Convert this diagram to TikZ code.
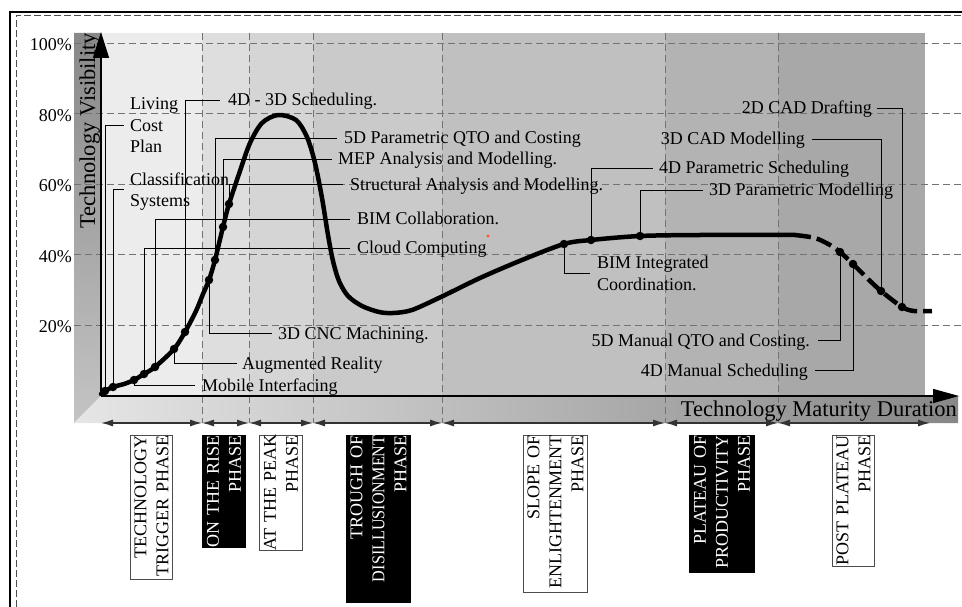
\documentclass[tikz,border=0pt]{standalone}
\usepackage{fontspec}
\setmainfont{Liberation Serif}
\usepackage{graphicx}
\usetikzlibrary{arrows.meta}

\definecolor{bandA}{HTML}{ECECEC}
\definecolor{bandB}{HTML}{DEDEDE}
\definecolor{bandC}{HTML}{D5D5D5}
\definecolor{bandD}{HTML}{CACACA}
\definecolor{bandE}{HTML}{C0C0C0}
\definecolor{bandF}{HTML}{B3B3B3}
\definecolor{bandG}{HTML}{A8A8A8}
\definecolor{wallTop}{HTML}{888888}
\definecolor{wallBot}{HTML}{C4C4C4}
\definecolor{floorL}{HTML}{E6E6E6}
\definecolor{floorR}{HTML}{878787}
\definecolor{speck}{HTML}{FF5A1A}

\begin{document}
\begin{tikzpicture}[x=1pt,y=1pt,
  lbl/.style={font=\fontsize{18}{21.5}\selectfont, inner sep=0pt, text height=12pt, text depth=0pt},
  mlbl/.style={font=\fontsize{18}{21.5}\selectfont, inner sep=0pt, align=left},
  lead/.style={line width=0.9pt, draw=black},
  gridline/.style={draw=black!55, line width=0.8pt, dash pattern=on 7pt off 4pt},
  hype/.style={line width=4.5pt, line join=round, line cap=round},
  hdot/.style={circle, fill=black, inner sep=0pt, minimum size=8.5pt},
  axisline/.style={line width=1.4pt, draw=black},
  phasearrow/.style={line width=1.3pt, draw=black!80,
    arrows={Latex[length=12pt,width=7pt]-Latex[length=12pt,width=7pt]}},
  phasebox/.style={rotate=90, anchor=north east, align=right, inner xsep=0pt,
    inner ysep=0pt, line width=0.8pt, font=\fontsize{18}{22}\selectfont},
  lightphase/.style={phasebox, draw=black!70, fill=white, text=black},
  darkphase/.style={phasebox, draw=black, fill=black, text=white},
]
\useasboundingbox (0,-607) rectangle (962,0);

% page frame
\draw[line width=2pt] (10,-607) -- (10,-12) -- (962,-12);
\draw[black!70, line width=0.8pt, dash pattern=on 7pt off 3pt] (16,-607) -- (16,-15) -- (962,-15);

% left wall and floor
\shade[top color=wallTop, bottom color=wallBot] (74,-33) -- (101,-33) -- (101,-396) -- (74,-423) -- cycle;
\shade[left color=floorL, right color=floorR] (74,-423) -- (101,-396) -- (958,-396) -- (958,-423) -- cycle;

% back wall, one band per phase
\fill[bandA] (101,-33) rectangle (202,-396);
\fill[bandB] (202,-33) rectangle (249,-396);
\fill[bandC] (249,-33) rectangle (313,-396);
\fill[bandD] (313,-33) rectangle (442,-396);
\fill[bandE] (442,-33) rectangle (665,-396);
\fill[bandF] (665,-33) rectangle (778,-396);
\fill[bandG] (778,-33) rectangle (925,-396);

% grid
\foreach \y in {43,113.6,184.2,254.8,325.4}
  \draw[gridline] (74,-\y) -- (962,-\y);
\foreach \x in {202,249,313,442,665,778}
  \draw[gridline] (\x,-33) -- (\x,-423);

% tick labels
\node[lbl, anchor=east] (t100) at (72,-44.5) {100\%};
\node[lbl, anchor=east] (t80) at (72,-115.1) {80\%};
\node[lbl, anchor=east] (t60) at (72,-185.7) {60\%};
\node[lbl, anchor=east] (t40) at (72,-256.3) {40\%};
\node[lbl, anchor=east] (t20) at (72,-326.9) {20\%};

% axis titles
\node[font=\fontsize{22.5}{24}\selectfont, rotate=90, anchor=base east, inner sep=0pt] (ytitle) at (95,-33) {Technology Visibility};
\node[font=\fontsize{22.5}{24}\selectfont, anchor=base east, inner sep=0pt] (xtitle) at (957,-416) {Technology Maturity Duration};

% axes
\coordinate (O) at (101,-396);
\coordinate (ytip) at (101,-32);
\coordinate (xtip) at (959,-396);
\draw[axisline, -{Triangle[length=26pt,width=16pt]}] (O) -- (ytip);
\draw[axisline, -{Triangle[length=26pt,width=14pt]}] (O) -- (xtip);

% phase extents
\foreach \n/\x in {0/101,1/202,2/249,3/313,4/442,5/665,6/778,7/930}
  \coordinate (v\n) at (\x,-423);
\foreach \a/\b in {v0/v1,v1/v2,v2/v3,v3/v4,v4/v5,v5/v6,v6/v7}
  \draw[phasearrow] (\a) -- (\b);

% hype curve
\draw[hype] plot[smooth, tension=0.5] coordinates {
  (101,-394) (105,-391) (113,-387) (124,-384) (134,-380) (144,-374) (155,-367)
  (174,-349) (185,-332) (196,-311) (203,-294) (209,-280) (215,-260) (223,-227)
  (229,-204) (240,-171) (250,-143) (262,-123) (278,-115) (296,-120) (307,-137)
  (315,-163) (322,-198) (328,-235) (333,-261) (339,-281) (348,-296) (362,-306)
  (379,-312) (393,-313) (412,-310) (443,-296) (480,-278) (522,-260) (564,-244)
  (591,-240) (640,-236) (700,-235) (795,-235)};
\draw[hype, line cap=butt, dash pattern=on 16pt off 6pt] plot[smooth, tension=0.5] coordinates {
  (795,-235) (815,-238) (830,-245) (840,-252) (853,-264) (867,-278) (881,-291)
  (902,-307) (914,-311) (932,-311)};

% technology markers
\foreach \n/\x/\y in {1/105/391, 2/113/387, 3/134/380, 4/144/374, 5/155/367,
    6/174/349, 7/185/332, 8/209/280, 9/215/260, 10/223/227, 11/229/204,
    12/564/244, 13/591/240, 14/640/236, 15/840/252, 16/853/264, 17/881/291, 18/902/307}
  \node[hdot] (d\n) at (\x,-\y) {};

\fill[speck] (488,-236) circle (1.6pt);

% labels
\node[mlbl, anchor=west] (llcp) at (130,-125.3) {Living\\Cost\\Plan};
\node[mlbl, anchor=west] (lcls) at (130,-191.5) {Classification\\Systems};
\node[lbl, anchor=west] (l4d3d) at (228,-100) {4D - 3D Scheduling.};
\node[lbl, anchor=west] (l5dp) at (344,-138) {5D Parametric QTO and Costing};
\node[lbl, anchor=west] (lmep) at (338,-159) {MEP Analysis and Modelling.};
\node[lbl, anchor=west] (lstr) at (350,-184) {Structural Analysis and Modelling.};
\node[lbl, anchor=west] (lbimc) at (357,-219) {BIM Collaboration.};
\node[lbl, anchor=west] (lcloud) at (357,-248) {Cloud Computing};
\node[lbl, anchor=west] (lcnc) at (278,-333) {3D CNC Machining.};
\node[lbl, anchor=west] (laug) at (242,-363) {Augmented Reality};
\node[lbl, anchor=west] (lmob) at (202,-385) {Mobile Interfacing};
\node[mlbl, anchor=west] (lbimi) at (597,-273.5) {BIM Integrated\\Coordination.};
\node[lbl, anchor=west] (l4dp) at (659,-168) {4D Parametric Scheduling};
\node[lbl, anchor=west] (l3dp) at (709,-190) {3D Parametric Modelling};
\node[lbl, anchor=east] (l3dcad) at (805,-139) {3D CAD Modelling};
\node[lbl, anchor=east] (l2dcad) at (872,-108) {2D CAD Drafting};
\node[lbl, anchor=east] (l5dm) at (810,-340) {5D Manual QTO and Costing.};
\node[lbl, anchor=east] (l4dm) at (808,-370) {4D Manual Scheduling};

% leaders
\draw[lead] (d1) |- ([xshift=-6pt]llcp.west);
\draw[lead] (d2) |- ([xshift=-6pt,yshift=2pt]lcls.west);
\draw[lead] (d3) |- ([xshift=-7pt]lmob.west);
\draw[lead] (d4) |- ([xshift=-7pt]lcloud.west);
\draw[lead] (d5) |- ([xshift=-7pt]lbimc.west);
\draw[lead] (d6) |- ([xshift=-5pt]laug.west);
\draw[lead] (d7) |- ([xshift=-8pt]l4d3d.west);
\draw[lead] (d8) |- ([xshift=-6pt]lcnc.west);
\draw[lead] (d9) |- ([xshift=-7pt]l5dp.west);
\draw[lead] (d10) |- ([xshift=-6pt]lmep.west);
\draw[lead] (d11) |- ([xshift=-7pt]lstr.west);
\draw[lead] (d12) |- ([xshift=-7pt]lbimi.west);
\draw[lead] (d13) |- ([xshift=-6pt]l4dp.west);
\draw[lead] (d14) |- ([xshift=-6pt]l3dp.west);
\draw[lead] ([xshift=7pt]l3dcad.east) -| (d17);
\draw[lead] ([xshift=5pt]l2dcad.east) -| (d18);
\draw[lead] ([xshift=8pt]l5dm.east) -| (d15);
\draw[lead] ([xshift=7pt]l4dm.east) -| (d16);

% phase names
\node[lightphase, minimum width=144pt, minimum height=42pt, text width=144pt] (ph1) at (130,-435) {TECHNOLOGY\\TRIGGER PHASE};
\node[darkphase, minimum width=112pt, minimum height=43pt, text width=112pt] (ph2) at (202,-435) {\mbox{ON THE RISE}\\PHASE};
\node[lightphase, minimum width=115pt, minimum height=43pt, text width=115pt] (ph3) at (259,-435) {\mbox{AT THE PEAK}\\PHASE};
\node[darkphase, minimum width=167pt, minimum height=64pt, text width=167pt] (ph4) at (346,-435) {TROUGH OF\\\scalebox{0.9}[1]{DISILLUSIONMENT}\\PHASE};
\node[lightphase, minimum width=157pt, minimum height=64pt, text width=157pt] (ph5) at (523,-435) {SLOPE OF\\ENLIGHTENMENT\\PHASE};
\node[darkphase, minimum width=137pt, minimum height=65pt, text width=137pt] (ph6) at (689,-435) {PLATEAU OF\\PRODUCTIVITY\\PHASE};
\node[lightphase, minimum width=131pt, minimum height=42pt, text width=131pt] (ph7) at (832,-435) {\mbox{POST PLATEAU}\\PHASE};
\end{tikzpicture}
\end{document}
